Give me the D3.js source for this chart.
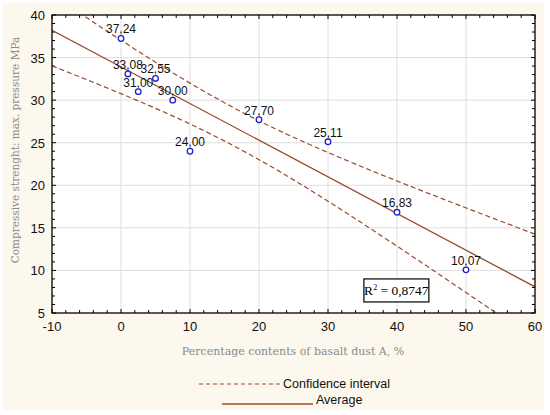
<!DOCTYPE html>
<html>
<head>
<meta charset="utf-8">
<script src="https://cdn.jsdelivr.net/npm/d3@7"></script>
<style>
  body { margin: 0; background: #ffffff; }
  svg { display: block; }
</style>
</head>
<body>
<svg id="chart"></svg>
<script>
// measured points: percentage of basalt dust vs compressive strength
var dustPct = [0, 1, 2.5, 5, 7.5, 10, 20, 30, 40, 50];
var strength = [37.24, 33.08, 31.00, 32.55, 30.00, 24.00, 27.70, 25.11, 16.83, 10.07];
var pointLabels = ["37,24", "33,08", "31,00", "32,55", "30,00", "24,00", "27,70", "25,11", "16,83", "10,07"];

// average line and confidence interval
var fitX = [-10, 60];
var fitY = [38.21, 8.07];
var bandX = [-10, 0, 10, 20, 30, 40, 50, 60];
var bandUpper = [42.39, 37.04, 32.00, 27.57, 23.85, 20.51, 17.35, 14.25];
var bandLower = [34.03, 30.76, 27.20, 23.01, 18.13, 12.85, 7.41, 1.89];

var xTicks = [-10, 0, 10, 20, 30, 40, 50, 60];
var yTicks = [5, 10, 15, 20, 25, 30, 35, 40];
var rSquared = "0,8747";

var width = 550, height = 415;
var margin = {left : 52, right : 15, top : 15, bottom : 102};

var svg = d3.select("#chart").attr("width", width).attr("height", height);

//cream background of the figure
svg.append("rect")
  .attr("x", 3).attr("y", 3)
  .attr("width", 541).attr("height", 407)
  .style("fill", "#fcf8ed");

var x = d3.scaleLinear().domain([-10, 60]).range([margin.left, width - margin.right]);
var y = d3.scaleLinear().domain([5, 40]).range([height - margin.bottom, margin.top]);

var plotW = x(60) - x(-10);
var plotH = y(5) - y(40);

svg.append("rect")
  .attr("x", x(-10)).attr("y", y(40))
  .attr("width", plotW).attr("height", plotH)
  .style("fill", "#ffffff");

svg.append("clipPath").attr("id", "plotClip")
  .append("rect")
  .attr("x", x(-10)).attr("y", y(40))
  .attr("width", plotW).attr("height", plotH);

//grid lines
var grid = svg.append("g").style("stroke", "#dedede").style("stroke-width", 1);
xTicks.slice(1, -1).forEach(function (t) {
  grid.append("line").attr("x1", x(t)).attr("x2", x(t)).attr("y1", y(40)).attr("y2", y(5));
});
yTicks.slice(1, -1).forEach(function (t) {
  grid.append("line").attr("x1", x(-10)).attr("x2", x(60)).attr("y1", y(t)).attr("y2", y(t));
});

//inward ticks on all four sides, minor every 2 % and every 1 MPa
var ticks = svg.append("g").style("stroke", "#000").style("stroke-width", 1);
d3.range(-10, 60.1, 2).forEach(function (t) {
  var len = (t % 10 === 0) ? 4 : 3;
  ticks.append("line").attr("x1", x(t)).attr("x2", x(t)).attr("y1", y(5)).attr("y2", y(5) - len);
  ticks.append("line").attr("x1", x(t)).attr("x2", x(t)).attr("y1", y(40)).attr("y2", y(40) + len);
});
d3.range(5, 40.1, 1).forEach(function (t) {
  var len = (t % 5 === 0) ? 4 : 3;
  ticks.append("line").attr("x1", x(-10)).attr("x2", x(-10) + len).attr("y1", y(t)).attr("y2", y(t));
  ticks.append("line").attr("x1", x(60)).attr("x2", x(60) - len).attr("y1", y(t)).attr("y2", y(t));
});

//tick labels
var tickFont = "'Liberation Sans', Arial, sans-serif";
svg.append("g").selectAll("text").data(xTicks).enter().append("text")
  .attr("x", function (d) { return x(d); })
  .attr("y", y(5) + 18)
  .attr("text-anchor", "middle")
  .style("font-family", tickFont).style("font-size", "13px").style("fill", "#111")
  .text(function (d) { return d; });

svg.append("g").selectAll("text").data(yTicks).enter().append("text")
  .attr("x", x(-10) - 7)
  .attr("y", function (d) { return y(d) + 5; })
  .attr("text-anchor", "end")
  .style("font-family", tickFont).style("font-size", "13px").style("fill", "#111")
  .text(function (d) { return d; });

//confidence interval and average line
var lineColor = "#9b4a2b";
var plot = svg.append("g").attr("clip-path", "url(#plotClip)");

var bandLine = d3.line()
  .x(function (d) { return x(d[0]); })
  .y(function (d) { return y(d[1]); })
  .curve(d3.curveNatural);

[bandUpper, bandLower].forEach(function (band) {
  plot.append("path")
    .datum(d3.zip(bandX, band))
    .attr("d", bandLine)
    .style("fill", "none")
    .style("stroke", lineColor)
    .style("stroke-width", 1.2)
    .style("stroke-dasharray", "5,3");
});

plot.append("path")
  .datum(d3.zip(fitX, fitY))
  .attr("d", d3.line().x(function (d) { return x(d[0]); }).y(function (d) { return y(d[1]); }))
  .style("fill", "none")
  .style("stroke", lineColor)
  .style("stroke-width", 1.3);

//frame
svg.append("rect")
  .attr("x", x(-10)).attr("y", y(40))
  .attr("width", plotW).attr("height", plotH)
  .style("fill", "none").style("stroke", "#000").style("stroke-width", 1.3);

//points with value labels
var points = d3.zip(dustPct, strength, pointLabels);
svg.append("g").selectAll("circle").data(points).enter().append("circle")
  .attr("cx", function (d) { return x(d[0]); })
  .attr("cy", function (d) { return y(d[1]); })
  .attr("r", 2.8)
  .style("fill", "#fff")
  .style("stroke", "#2222cc")
  .style("stroke-width", 1.3);

svg.append("g").selectAll("text").data(points).enter().append("text")
  .attr("x", function (d) { return x(d[0]); })
  .attr("y", function (d) { return y(d[1]) - 5; })
  .attr("text-anchor", "middle")
  .style("font-family", tickFont).style("font-size", "12px").style("fill", "#111")
  .text(function (d) { return d[2]; });

//R squared box
var rBox = svg.append("g").attr("transform", "translate(" + x(35.2) + "," + (y(9.0)) + ")");
rBox.append("rect")
  .attr("width", 65).attr("height", 23)
  .style("fill", "#fff").style("stroke", "#000").style("stroke-width", 1.2);
var rText = rBox.append("text")
  .attr("x", 32.5).attr("y", 16)
  .attr("text-anchor", "middle")
  .style("font-family", "'Liberation Serif', 'Times New Roman', serif")
  .style("font-size", "13.5px").style("fill", "#000");
rText.append("tspan").text("R");
rText.append("tspan").attr("dy", -5).style("font-size", "8px").text("2");
rText.append("tspan").attr("dy", 5).text(" = " + rSquared);

//axis titles
var titleFont = "'DejaVu Serif', serif";
svg.append("text")
  .attr("x", 293)
  .attr("y", 355)
  .attr("text-anchor", "middle")
  .style("font-family", titleFont).style("font-size", "11px").style("fill", "#8a8a8a")
  .text("Percentage contents of basalt dust A, %");

svg.append("text")
  .attr("transform", "translate(19,150) rotate(-90)")
  .attr("text-anchor", "middle")
  .style("font-family", titleFont).style("font-size", "10.5px").style("fill", "#8a8a8a")
  .text("Compressive strenght: max. pressure MPa");

//legend
var legend = svg.append("g").style("font-family", tickFont).style("font-size", "12.5px");
legend.append("line")
  .attr("x1", 199).attr("x2", 280).attr("y1", 384).attr("y2", 384)
  .style("stroke", lineColor).style("stroke-width", 1.2).style("stroke-dasharray", "4,3");
legend.append("text").attr("x", 283).attr("y", 388).style("fill", "#111").text("Confidence interval");
legend.append("line")
  .attr("x1", 222).attr("x2", 313).attr("y1", 404).attr("y2", 404)
  .style("stroke", lineColor).style("stroke-width", 1.3);
legend.append("text").attr("x", 316).attr("y", 404).style("fill", "#111").text("Average");
</script>
</body>
</html>
